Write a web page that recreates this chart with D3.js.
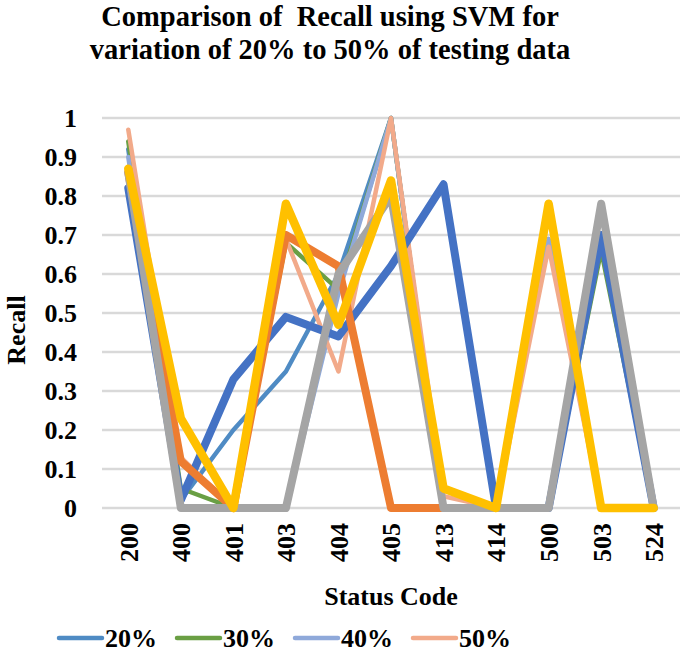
<!DOCTYPE html>
<html><head><meta charset="utf-8">
<script src="https://cdn.jsdelivr.net/npm/d3@7"></script>
<style>body{margin:0;background:#fff;} svg{display:block;} svg text{font-family:'Liberation Serif','Times New Roman',serif !important;font-weight:bold;fill:#000;}</style>
</head><body><div id="chart"></div>
<script>
const categories = ["200","400","401","403","404","405","413","414","500","503","524"];
const yTicks = [0,0.1,0.2,0.3,0.4,0.5,0.6,0.7,0.8,0.9,1];
const legendNames = ["20%","30%","40%","50%"];
// thin series (legend)
const s20 = [0.92,0.02,0.20,0.35,0.60,1.00,0.00,0.00,0.00,0.70,0.00];
const s30 = [0.94,0.05,0.00,0.68,0.56,1.00,0.00,0.00,0.00,0.66,0.00];
const s40 = [0.90,0.00,0.00,0.00,0.55,1.00,0.00,0.00,0.69,0.00,0.00];
const s50 = [0.97,0.13,0.00,0.69,0.35,1.00,0.03,0.00,0.67,0.00,0.00];
// thick series
const t1 = [0.82,0.02,0.33,0.49,0.44,0.62,0.83,0.00,0.00,0.70,0.00];
const t2 = [0.86,0.12,0.00,0.70,0.62,0.00,0.00,null,null,null,null];
const t3 = [0.86,0.00,0.00,0.00,0.60,0.80,0.00,0.00,0.00,0.78,0.00];
const t4 = [0.87,0.23,0.00,0.78,0.47,0.84,0.05,0.00,0.78,0.00,0.00];

const series = [
  {name:"20%", values:s20, color:"#4f8bc4", w:4.5},
  {name:"30%", values:s30, color:"#6a9f44", w:4.5},
  {name:"40%", values:s40, color:"#8fa9da", w:4.5},
  {name:"50%", values:s50, color:"#f2aa8a", w:4.5},
  {name:"A", values:t1, color:"#4472c4", w:8},
  {name:"B", values:t2, color:"#ed7d31", w:8},
  {name:"C", values:t3, color:"#a5a5a5", w:8},
  {name:"D", values:t4, color:"#ffc000", w:8.5}
];

const W=685,H=658;
const FONT="'Liberation Serif','Times New Roman',serif";
const svg=d3.select("#chart").append("svg").attr("width",W).attr("height",H);
const x=d3.scalePoint().domain(categories).range([102,680]).padding(0.5);
const y=d3.scaleLinear().domain([0,1]).range([508,118]);

// grid
svg.append("g").selectAll("line").data(yTicks).join("line")
  .attr("x1",102).attr("x2",680).attr("y1",d=>y(d)).attr("y2",d=>y(d))
  .attr("stroke","#d9d9d9").attr("stroke-width",2.5);

// y axis labels
const yAxis=d3.axisLeft(y).tickValues(yTicks).tickFormat(d=>String(+d.toFixed(1))).tickSize(0).tickPadding(0);
const gy=svg.append("g").attr("transform","translate(77,0)").call(yAxis).attr("font-family",FONT);
gy.select(".domain").remove();
gy.selectAll("text").attr("font-family",FONT).style("font-size","26px").attr("dy","0.34em");

// x axis labels
const xAxis=d3.axisBottom(x).tickSize(0).tickPadding(0);
const gx=svg.append("g").attr("transform","translate(0,523)").call(xAxis).attr("font-family",FONT);
gx.select(".domain").remove();
gx.selectAll(".tick text").attr("font-family",FONT).style("font-size","26px")
  .attr("x",0).attr("y",0).attr("dy","0.34em").attr("transform","rotate(-90)").attr("text-anchor","end");

// lines
const line=d3.line().defined(d=>d!==null).x((d,i)=>x(categories[i])).y(d=>y(d));
svg.append("g").selectAll("path").data(series).join("path")
  .attr("d",d=>line(d.values)).attr("fill","none").attr("stroke",d=>d.color)
  .attr("stroke-width",d=>d.w).attr("stroke-linejoin","round").attr("stroke-linecap","round");

// titles
const title=svg.append("text").attr("font-family",FONT).attr("text-anchor","middle").style("font-size","28.5px");
title.append("tspan").attr("x",330).attr("y",26).text("Comparison of\u00a0 Recall using SVM for");
title.append("tspan").attr("x",330).attr("y",59).text("variation of 20% to 50% of testing data");

svg.append("text").attr("font-family",FONT).attr("x",391).attr("y",605).attr("text-anchor","middle").style("font-size","26px").text("Status Code");
svg.append("text").attr("font-family",FONT).attr("transform","translate(25,330) rotate(-90)").attr("text-anchor","middle").style("font-size","26px").text("Recall");

// legend
const lg=svg.append("g").selectAll("g").data(series.slice(0,4)).join("g")
  .attr("transform",(d,i)=>`translate(${59+i*118},638)`);
lg.append("line").attr("x1",0).attr("x2",43).attr("y1",0).attr("y2",0)
  .attr("stroke",d=>d.color).attr("stroke-width",4.5).attr("stroke-linecap","round");
lg.append("text").attr("font-family",FONT).attr("x",46).attr("y",0).attr("dy","0.34em").style("font-size","26px").text((d,i)=>legendNames[i]);
</script></body></html>
